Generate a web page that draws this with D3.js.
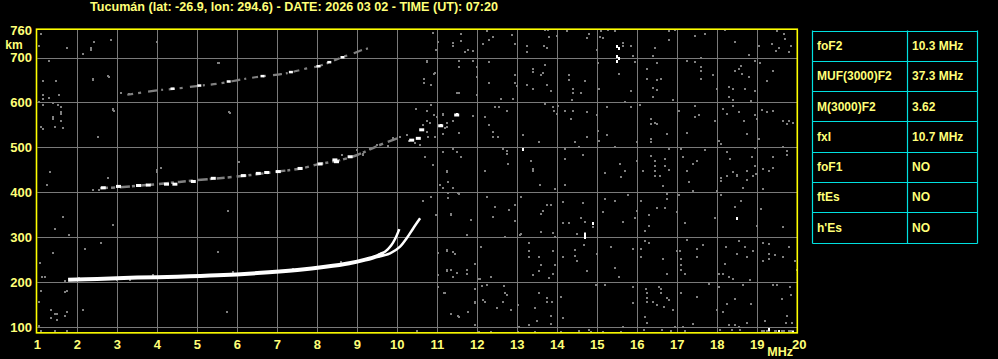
<!DOCTYPE html>
<html>
<head>
<meta charset="utf-8">
<script src="https://cdn.jsdelivr.net/npm/d3@7"></script>
<style>
html,body{margin:0;padding:0;background:#000;overflow:hidden;}
svg{display:block;}
text{font-family:"Liberation Sans",Arial,sans-serif;font-weight:bold;}
</style>
</head>
<body>
<svg id="chart" width="998" height="359"></svg>
<script>
// ---------------- DATA ----------------
const titleText = "Tucumán (lat: -26.9, lon: 294.6) - DATE: 2026 03 02 - TIME (UT): 07:20";
const freqTicks = [1,2,3,4,5,6,7,8,9,10,11,12,13,14,15,16,17,18,19,20];
const heightTicks = [100,200,300,400,500,600,700,760];
const gridFreqs = [2,3,4,5,6,7,8,9,10,11,12,13,14,15,16,17,18,19];
const gridHeights = [100,200,300,400,500,600,700];
const paramNames = ["foF2","MUF(3000)F2","M(3000)F2","fxI","foF1","ftEs","h'Es"];
const paramValues = ["10.3 MHz","37.3 MHz","3.62","10.7 MHz","NO","NO","NO"];

// first-hop F trace (MHz, km)
const traceMain = [[1.77,205],[2.5,207],[3.5,210],[4.5,212],[5.5,215],[6.5,220],[7.5,227],[8.2,234],[8.8,242],[9.2,250],[9.5,258],[9.65,264]];
const traceO = [[9.5,259],[9.7,268],[9.85,282],[9.95,297],[10.05,318]];
const traceX = [[9.5,256],[9.82,264],[10.07,279],[10.23,297],[10.4,320],[10.57,342]];
// second hop
const trace2F = [[2.57,409],[3,411],[4,418],[5,427],[6,435],[7,446],[7.6,453],[8,462],[8.5,470],[9,483],[9.5,503],[10,520]];
const white2F = [[2.65,410],[3.03,413],[3.53,415],[3.775,416],[4.23,418],[4.44,418],[4.9,424],[5.4,431],[6.15,437],[6.525,442],[6.735,444],[7.025,446],[7.57,453],[8.07,463],[8.48,468],[8.82,479],[8.44,472],[10.36,516],[10.525,520],[10.61,539],[11.085,548],[11.485,572]];
// third hop
const trace3F = [[3.25,617],[4.0,627],[4.4,630],[5.05,637],[5.55,642],[6.1,651],[6.6,658],[7.1,663],[7.35,667],[7.65,674],[8.0,680],[8.3,689],[8.6,700],[8.9,709],[9.1,716],[9.3,721]];
const white3F = [[4.38,630],[5.05,637],[5.785,646],[6.63,658],[7.34,667],[8.03,680],[8.3,689],[8.63,700]];

// scattered echoes (noise)
const noiseGray = [
[11.59,752],[11.59,737],[11.39,733],[11.39,726],[11.78,716],[11.7,712],[11.9,715],[12.24,759],[12.39,746],[12.3,738],[12.14,730],
[12.86,750],[12.95,730],[13.24,726],[13.25,713],[13.67,726],[13.74,722],[13.7,761],[13.78,761],[13.8,746],[13.99,748],
[14.24,758],[14.74,743],[14.8,752],[14.99,716],[15.09,759],[15.07,746],[15.15,744],[15.28,761],[15.445,759],
[15.64,733],[15.64,726],[15.84,726],[15.89,704],[16.445,721],[16.39,704],[16.8,758],[16.79,738],[16.945,761],
[17.445,748],[17.695,752],[18.195,761],[18.445,735],[18.8,706],[19.49,759],[19.7,741],[19.67,752],[19.47,715],[19.55,721],[19.84,726],[19.36,730],[19.05,726],[19.8,713],
[11.53,692],[11.55,679],[11.9,692],[11.99,678],[11.99,657],[12.3,689],[12.3,644],[11.55,621],[11.99,617],
[12.6,607],[12.89,607],[12.95,661],[12.95,644],[12.99,637],[13.39,674],[13.39,667],[13.64,665],[13.6,661],[13.7,684],[13.24,639],[13.39,630],[13.74,639],[13.85,626],
[14.3,661],[14.3,650],[14.4,630],[14.39,622],[14.59,622],[14.7,648],[14.36,605],[15.03,687],[15.04,630],[15.55,664],[15.84,626],[15.945,689],
[16.24,674],[16.25,652],[16.5,650],[16.59,653],[16.4,632],[16.49,627],[16.4,612],[16.49,687],
[16.9,605],[17.24,692],[17.445,689],[17.59,679],[17.59,700],[17.59,670],[17.59,652],[17.89,661],[17.99,630],
[18.28,635],[18.4,630],[18.59,681],[18.53,674],[18.445,670],[18.78,657],[18.61,663],[18.695,630],[18.945,626],[18.28,612],[18.4,605],
[19.07,687],[19.39,670],[19.24,648],[18.84,604],[18.945,692],
[11.15,575],[11.24,555],[11.2,544],[11.14,529],[11.4,559],[11.53,533],[11.9,570],[12.2,568],[12.3,550],[12.39,535],[12.4,522],[12.53,522],[12.45,590],[12.55,590],[12.74,581],
[13.15,528],[13.53,511],[13.7,596],[13.89,590],[13.92,580],[13.99,575],[14.03,592],[14.2,581],[14.34,563],[14.4,580],[14.445,511],[14.74,578],[14.74,524],
[15.0,572],[15.03,537],[15.05,515],[15.24,589],[15.24,528],[15.7,602],[15.84,589],[15.99,511],[16.07,595],[16.34,563],[16.34,553],[16.445,555],[16.49,552],[16.34,518],[16.34,511],[16.74,529],
[17.03,580],[17.24,533],[17.445,592],[17.445,567],[17.55,572],[17.945,559],[18.03,515],[18.15,585],[18.24,575],[18.4,592],[18.53,578],[18.67,559],[18.74,529],[18.945,572],[18.99,563],[19.03,518],[19.11,583],[19.25,578],[19.39,580],[19.74,553],[19.8,559],[19.9,555],[19.65,559],
[11.15,489],[11.4,496],[11.49,489],[11.6,479],[11.24,448],[12.2,448],[12.64,496],[12.74,492],[12.74,485],[12.78,463],[13.34,470],[13.39,452],[13.39,448],
[14.2,496],[14.2,474],[14.55,501],[14.64,483],[15.2,443],[15.445,500],[15.57,463],[15.7,448],[15.99,470],
[16.14,448],[16.34,481],[16.445,470],[16.445,459],[16.445,448],[16.57,437],[16.695,474],[16.695,459],[16.8,449],[16.8,496],
[17.09,496],[17.15,479],[17.24,448],[17.4,463],[17.49,470],[17.695,494],[18.09,507],[18.24,489],[18.32,474],[18.4,444],[18.49,438],[18.74,448],[18.86,479],[18.945,498],[18.945,459],[18.97,441],[19.14,452],[19.28,448],[19.4,479],[19.4,455],[19.74,492],[19.74,484],[19.64,501],
[11.15,409],[11.39,409],[11.28,422],[11.53,396],[13.57,416],[13.945,407],[14.2,416],[15.59,433],[16.445,437],[16.64,413],[17.28,422],[17.39,403],[18.09,431],[18.09,425],[18.24,437],[18.49,437],[18.74,428],[18.64,409],[18.89,437],[19.14,407],
[11.28,387],[11.345,351],[11.84,338],[11.74,304],[12.24,390],[12.45,368],[12.39,346],[12.8,360],[12.95,372],[12.95,336],[12.695,301],[13.09,390],[13.09,306],
[13.59,351],[13.64,358],[13.74,372],[13.84,372],[13.59,312],[13.9,310],[13.945,301],[14.15,378],[14.15,332],[14.3,332],[14.49,308],[14.595,343],[14.64,375],[14.7,334],[14.7,310],[14.89,323],
[15.195,385],[15.14,355],[15.445,381],[15.64,334],[15.78,394],[15.945,342],[15.99,358],[16.09,381],[16.28,349],[16.28,325],[16.195,313],[16.49,364],[16.695,366],[16.74,385],[16.75,396],[17.03,394],[17.195,331],[16.99,355],
[17.4,403],[17.945,342],[17.99,403],[18.09,394],[18.445,368],[18.6,381],[18.99,325],[19.09,362],[19.64,323],
[11.24,269],[11.445,263],[11.24,224],[11.345,228],[11.49,221],[11.74,228],[11.74,217],[11.945,241],[12.09,278],[12.07,206],[12.34,211],
[13.07,304],[13.295,286],[13.295,269],[13.295,256],[13.39,215],[13.54,256],[13.54,225],[13.59,237],[13.79,209],[13.89,269],[13.89,219],[13.945,239],
[14.14,256],[14.445,271],[14.445,258],[14.49,246],[14.68,282],[14.74,224],[14.99,263],[15.34,278],[15.445,231],[15.55,211],[15.89,273],[16.09,273],[16.09,256],[16.195,291],[16.29,286],[16.64,252],[16.74,219],
[17.07,269],[17.09,251],[17.09,237],[17.09,226],[17.195,219],[17.24,293],[17.49,273],[17.49,256],[17.64,282],[16.99,269],
[18.04,217],[18.14,219],[18.195,241],[18.22,278],[18.29,211],[18.4,207],[18.49,263],[18.695,278],[18.74,256],[18.53,291],[18.9,269],
[19.14,286],[19.28,284],[19.295,263],[19.445,260],[19.15,246],[19.3,251],[19.64,256],[19.795,278],[19.945,246],[19.98,228],
[11.18,176],[11.345,129],[11.53,123],[11.78,133],[11.945,184],[11.945,154],[11.945,104],[12.05,206],[12.11,191],[12.14,159],[12.2,155],[12.24,194],[12.49,142],[12.64,155],[12.68,191],[12.695,176],[12.74,172],[12.845,137],
[13.03,148],[13.04,99],[13.3,104],[13.445,142],[13.49,113],[13.54,175],[13.74,164],[13.75,155],[13.84,125],[13.86,155],[13.84,107],[14.09,166],[14.15,119],
[14.97,193],[15.195,193],[15.64,99],[15.89,189],[15.89,154],[16.22,184],[16.24,176],[16.24,164],[16.24,155],[16.195,122],[16.24,110],[16.39,155],[16.49,148],[16.55,189],[16.59,184],[16.59,175],[16.67,144],[16.74,164],[16.78,159],[16.9,137],[16.945,99],[17.09,176],[17.15,99],[17.39,107],[17.49,166],
[17.78,196],[17.99,137],[18.04,189],[18.14,133],[18.24,152],[18.28,104],[18.445,163],[18.445,104],[18.53,99],[18.64,193],[18.74,110],[18.84,152],[18.82,204],[19.2,114],[19.39,193],[19.49,194],[19.61,163],[19.72,110],[19.82,189],[19.845,172],[19.86,110],[19.74,125],
[12.05,89],[12.34,89],[13.03,89],[13.445,89],[14.09,89],[14.55,92],[14.78,94],[14.84,89],[15.14,89],[15.59,89],[16.17,94],[16.61,94],[16.84,90],[17.195,92],[18.07,94],[18.36,94],[18.57,94],[19.11,92],[19.16,90],[19.24,90],[19.3,90],[19.445,92],[19.48,90],[19.61,92],[19.66,90],[19.78,92],[19.84,90],[19.9,90],
[1.09,752],[1.03,726],[1.735,721],[2.34,721],[2.34,716],[2.135,707],[2.425,735],[2.84,738],[3.98,735],[1.285,692],[1.135,648],[1.47,648],[2.385,652],[2.78,659],
[1.135,617],[1.535,617],[1.3,610],[1.135,607],[1.035,602],[1.135,595],[1.385,598],[1.51,595],[1.59,590],[1.59,578],[1.385,567],[1.59,559],[2.885,585],[2.925,581],[5.535,687],[5.785,578],
[10.885,755],[11.01,735],[10.97,716],[10.735,692],[10.925,664],[10.675,652],[10.675,644],[10.84,639],[10.47,585],[10.735,580],[10.84,595],[10.925,572],[10.735,559],
[1.385,563],[1.44,545],[1.635,543],[1.59,574],[1.09,545],[1.135,540],
[1.32,446],[1.235,416],[1.635,346],[1.44,318],[1.8,305],[1.4,264],[1.19,212],[1.11,212],[1.07,242],[2.775,431],[2.9,327],[2.585,288],[2.19,274],[2.985,205],[3.32,205],[4.0,450],[4.0,446],[5.775,359],[5.525,266],[6.04,468],
[10.69,478],[10.885,461],[10.635,381],[10.835,390],[10.97,349],[11.25,444],[11.335,349],[11.235,271],[11.4,268],[11.025,264],[11.235,227],[11.4,212],[11.025,216],[11.275,398],[11.525,398],
[1.085,180],[1.69,177],[1.735,180],[1.035,156],[1.335,138],[1.44,130],[1.485,130],[1.335,121],[1.485,116],[1.69,125],[1.735,133],[2.135,138],[1.035,102],[1.085,90],[1.44,90],[1.735,90],[5.735,133],
[11.025,190],[11.19,176],[11.335,130],[11.525,125],[11.775,133],[11.94,185],[11.94,156],[10.485,90],
[9.9,516],[10.07,524],[10.235,528],[10.65,550],[10.735,535],[10.82,554],[10.985,568],[11.15,572],[11.235,546],[10.94,524],[10.775,524],[10.44,509],[10.567,505],[10.29,513],[9.9,520],[9.775,502],[9.485,505],[9.317,496],[9.15,483],[9.15,486],[8.61,483],
[5.525,687],[2.384,650],[2.8,657],[2.9,583],[2.525,522],[5.82,576],[8.985,494],[10.735,691],[10.94,665],[11.07,416],[11.235,446],[11.485,620],
[2.4,405],[2.55,404],[3.3,618],[3.1,620],[4.1,455],[2.05,209],[1.7,203],[3.9,215],[5.9,222],[7.4,230],[8.6,245]
];
const noiseWhite = [[15.49,726],[15.545,721],[15.49,704],[15.545,698],[15.49,692],[11.49,574],[11.09,550],[13.14,496],[14.89,332],[14.7,306],[14.7,301],[18.49,342],[19.28,95],[19.53,92],[19.9,88]];

// ---------------- DRAWING ----------------
const svg = d3.select("#chart");
const W = 998, H = 359;
svg.append("rect").attr("width", W).attr("height", H).attr("fill", "#000");

const x = d3.scaleLinear().domain([1, 20]).range([37.3, 797.3]);
const y = d3.scaleLinear().domain([100, 700]).range([327, 57.5]);
const kmMin = 87, kmMax = 763;

const labelColor = "#ffff78";
const gridColor = "#7a7a7a";
const noiseColor = "#808080";

// title
svg.append("text").attr("x", 90).attr("y", 11)
  .attr("fill", labelColor).attr("font-size", 12.5)
  .attr("textLength", 408).attr("lengthAdjust", "spacingAndGlyphs")
  .text(titleText);

// grid
const grid = svg.append("g");
grid.selectAll("line.v").data(gridFreqs).enter().append("line")
  .attr("x1", d => Math.round(x(d)) + 0.5).attr("x2", d => Math.round(x(d)) + 0.5)
  .attr("y1", y(kmMax)).attr("y2", y(kmMin))
  .attr("stroke", gridColor).attr("stroke-width", 1);
grid.selectAll("line.h").data(gridHeights).enter().append("line")
  .attr("x1", x(1)).attr("x2", x(20))
  .attr("y1", d => Math.round(y(d)) + 0.5).attr("y2", d => Math.round(y(d)) + 0.5)
  .attr("stroke", gridColor).attr("stroke-width", 1);

// clip
svg.append("clipPath").attr("id", "plotclip").append("rect")
  .attr("x", x(1)).attr("y", y(kmMax)).attr("width", x(20) - x(1)).attr("height", y(kmMin) - y(kmMax));
const plot = svg.append("g").attr("clip-path", "url(#plotclip)");

// noise
plot.selectAll("rect.ng").data(noiseGray).enter().append("rect")
  .attr("x", d => Math.round(x(d[0])) - 1).attr("y", d => Math.round(y(d[1])) - 1)
  .attr("width", 2).attr("height", 2).attr("fill", noiseColor);

const line = d3.line().x(d => x(d[0])).y(d => y(d[1])).curve(d3.curveCatmullRom);

// third hop
plot.append("path").attr("d", line(trace3F)).attr("fill", "none")
  .attr("stroke", noiseColor).attr("stroke-width", 2.2).attr("stroke-dasharray", "6,5,3,7,9,4,2,6");
plot.selectAll("rect.w3").data(white3F).enter().append("rect")
  .attr("x", d => x(d[0]) - 2).attr("y", d => y(d[1]) - 1.5)
  .attr("width", 4).attr("height", 2.5).attr("fill", "#fff");

// second hop
plot.append("path").attr("d", line(trace2F)).attr("fill", "none")
  .attr("stroke", noiseColor).attr("stroke-width", 2.5).attr("stroke-dasharray", "8,3,4,5,10,2,3,4");
plot.selectAll("rect.w2").data(white2F).enter().append("rect")
  .attr("x", d => x(d[0]) - 2.5).attr("y", d => y(d[1]) - 1.5)
  .attr("width", 5).attr("height", 3).attr("fill", "#fff");

// first hop
plot.append("path").attr("d", line(traceMain)).attr("fill", "none")
  .attr("stroke", "#fff").attr("stroke-width", 4);
plot.append("path").attr("d", line(traceO)).attr("fill", "none")
  .attr("stroke", "#fff").attr("stroke-width", 2.5);
plot.append("path").attr("d", line(traceX)).attr("fill", "none")
  .attr("stroke", "#fff").attr("stroke-width", 2.5);

plot.selectAll("rect.nw").data(noiseWhite).enter().append("rect")
  .attr("x", d => Math.round(x(d[0])) - 1).attr("y", d => Math.round(y(d[1])) - 1)
  .attr("width", 2).attr("height", 3).attr("fill", "#fff");

// frame
svg.append("rect")
  .attr("x", x(1) - 0.8).attr("y", y(kmMax)).attr("width", x(20) - x(1) + 0.8).attr("height", y(kmMin) - y(kmMax))
  .attr("fill", "none").attr("stroke", "#ffff00").attr("stroke-width", 1.6);

// y labels
svg.selectAll("text.yl").data(heightTicks).enter().append("text")
  .attr("x", 32).attr("y", d => y(d)).attr("dy", "0.36em")
  .attr("text-anchor", "end").attr("fill", labelColor).attr("font-size", 13)
  .text(d => d);
svg.append("text").attr("x", 14).attr("y", 49).attr("text-anchor", "middle")
  .attr("fill", labelColor).attr("font-size", 12).text("km");

// x labels
svg.selectAll("text.xl").data(freqTicks).enter().append("text")
  .attr("x", d => x(d) + (d === 20 ? 2 : 0)).attr("y", 349)
  .attr("text-anchor", "middle").attr("fill", labelColor).attr("font-size", 13)
  .text(d => d);
svg.append("text").attr("x", 793).attr("y", 356).attr("text-anchor", "end")
  .attr("fill", labelColor).attr("font-size", 12.5).text("MHz");

// parameter table
const tblX0 = 812.5, tblX1 = 907.5, tblX2 = 977.5, tblY0 = 30.5, rowH = 30.3;
const rowScale = d3.scaleBand().domain(paramNames).range([tblY0, tblY0 + rowH * paramNames.length]);
const tbl = svg.append("g");
tbl.selectAll("text.pn").data(paramNames).enter().append("text")
  .attr("x", tblX0 + 4.5).attr("y", d => rowScale(d) + rowScale.bandwidth() / 2).attr("dy", "0.36em")
  .attr("fill", labelColor).attr("font-size", 12).text(d => d);
tbl.selectAll("text.pv").data(paramValues).enter().append("text")
  .attr("x", tblX1 + 4.5).attr("y", (d, i) => rowScale(paramNames[i]) + rowScale.bandwidth() / 2).attr("dy", "0.36em")
  .attr("fill", labelColor).attr("font-size", 12).text(d => d);
tbl.selectAll("line.rl").data(d3.range(paramNames.length + 1)).enter().append("line")
  .attr("x1", tblX0).attr("x2", tblX2)
  .attr("y1", i => Math.round(tblY0 + i * rowH) + 0.5).attr("y2", i => Math.round(tblY0 + i * rowH) + 0.5)
  .attr("stroke", "#00e0e0").attr("stroke-width", 1.2);
[tblX0, tblX1, tblX2].forEach(xx => {
  tbl.append("line").attr("x1", xx).attr("x2", xx)
    .attr("y1", tblY0).attr("y2", Math.round(tblY0 + rowH * paramNames.length) + 0.5)
    .attr("stroke", "#00e0e0").attr("stroke-width", 1.2);
});
</script>
</body>
</html>
